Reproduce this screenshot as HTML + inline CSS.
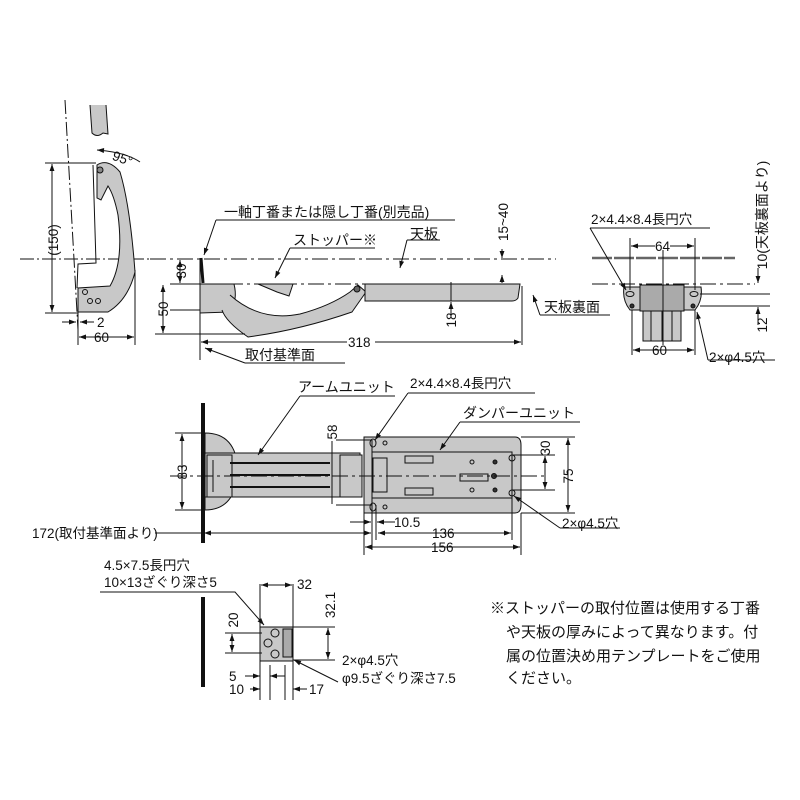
<!DOCTYPE html>
<html><head><meta charset="utf-8"><style>
html,body{margin:0;padding:0;background:#fff;width:800px;height:800px;overflow:hidden}
svg{display:block}
text{font-family:"Liberation Sans","Noto Sans CJK JP",sans-serif;fill:#111}
</style></head><body>
<svg width="800" height="800" viewBox="0 0 800 800" xmlns="http://www.w3.org/2000/svg">
<defs>
<marker id="a" viewBox="0 0 10 10" refX="10" refY="5" markerWidth="9" markerHeight="7" orient="auto-start-reverse" markerUnits="userSpaceOnUse"><path d="M0,1.5 L10,5 L0,8.5 z" fill="#111"/></marker>
</defs>
<g stroke="#111" stroke-width="1" fill="none">
<!-- ============ TOP LEFT VIEW ============ -->
<path d="M65,100 L78,330" stroke-dasharray="14,3,2,3"/>
<path d="M20,259 H150" stroke-dasharray="14,3,2,3"/>
<path d="M90,105 L92,133 Q97,138 103,133 L108,134 L106,105" fill="#c8c8c8"/>
<path d="M97,150 Q125,152 140,162" marker-start="url(#a)"/>
<path d="M93,165 L96,263 L78,264 L77,288" />
<path d="M97,165 Q108,158 120,172 Q130,205 135,272 Q128,300 108,312 L78,312 L78,288 L110,286 Q124,262 118,215 Q114,195 108,186 L101,200 L97,198 Z" fill="#c8c8c8"/>
<circle cx="100" cy="170" r="3" fill="#888"/>
<circle cx="85" cy="292" r="2.5"/><circle cx="90" cy="301" r="2.5"/><circle cx="98" cy="301" r="2.5"/>
<path d="M45,163 H96 M45,313 H78"/>
<path d="M52,164 V312" marker-start="url(#a)" marker-end="url(#a)"/>
<path d="M78,310 V345 M135,270 V345"/>
<path d="M79,337 H134" marker-start="url(#a)" marker-end="url(#a)"/>
<path d="M62,322 H76" marker-end="url(#a)"/><path d="M94,322 H80" marker-end="url(#a)"/>

<!-- ============ SIDE VIEW ============ -->
<path d="M150,259 H556" stroke-dasharray="16,4,3,4"/>
<path d="M200,284 H520" stroke-dasharray="16,4,3,4"/>
<path d="M201,258 L203,283" stroke-width="3"/>
<path d="M200,284 H234 Q238,300 230,312 L200,313 Z" fill="#c8c8c8"/>
<path d="M230,295 Q260,322 300,314 Q330,306 350,292 L358,285 L366,292 L352,312 Q300,330 248,337 Q226,322 222,310" fill="#c8c8c8"/>
<path d="M258,284 H293 L289,296 L277,292 Z" fill="#c8c8c8"/>
<circle cx="357" cy="289" r="3" fill="#666"/>
<path d="M365,284 H520 L518,298 Q516,301 512,301 H365 Z" fill="#c8c8c8"/>
<path d="M522,286 V345"/>
<path d="M200,258 V360"/>
<path d="M170,284 H200 M170,310 H200 M155,334 H245"/>
<path d="M180,260 V283" marker-start="url(#a)" marker-end="url(#a)"/>
<path d="M163,285 V333" marker-start="url(#a)" marker-end="url(#a)"/>
<path d="M201,342 H347 M375,342 H521" marker-end="url(#a)"/>
<path d="M201,342 H215" marker-start="url(#a)"/>
<path d="M502,249 V258" marker-end="url(#a)"/><path d="M502,275 V283" marker-end="url(#a)" transform="rotate(180 502 279)"/>
<path d="M451,282 V301" /><path d="M451,318 V302" marker-end="url(#a)"/>
<path d="M245,363 L205,348" marker-end="url(#a)"/><path d="M245,363 H345"/>
<path d="M216,220 H455 M216,220 L204,255" marker-end="url(#a)"/>
<path d="M290,248 H375 M290,248 L275,278" marker-end="url(#a)"/>
<path d="M407,240 H440 M407,240 L400,268" marker-end="url(#a)"/>
<path d="M540,315 H610 M540,315 L533,295" marker-end="url(#a)"/>

<!-- ============ RIGHT SMALL VIEW ============ -->
<path d="M592,258 H735" stroke="#666" stroke-width="2.5" stroke-dasharray="20,2"/>
<path d="M592,284 H755" stroke-dasharray="16,4,3,4"/>
<path d="M624,287 Q622,300 630,310 H695 Q703,300 701,287 Z" fill="#c8c8c8"/>
<rect x="640" y="285" width="44" height="26" fill="#aaa"/>
<rect x="643" y="311" width="38" height="30" fill="#c8c8c8"/>
<path d="M651,311 V341 M662,311 V341 M672,311 V341"/>
<ellipse cx="630" cy="294" rx="4" ry="2.5"/><ellipse cx="694" cy="294" rx="4" ry="2.5"/>
<circle cx="632" cy="306" r="2" fill="#333"/><circle cx="693" cy="306" r="2" fill="#333"/>
<path d="M630,238 V290 M695,238 V290 M663,250 V345 M632,310 V355 M695,310 V355"/>
<path d="M631,246 H655 M670,246 H694" /><path d="M645,246 H631" marker-end="url(#a)"/><path d="M680,246 H694" marker-end="url(#a)"/>
<path d="M646,350 H633" marker-end="url(#a)"/><path d="M682,350 H694" marker-end="url(#a)"/><path d="M633,350 H694"/>
<path d="M700,294 H770 M700,306 H770"/>
<path d="M758,268 V283" marker-end="url(#a)"/><path d="M758,325 V307" marker-end="url(#a)"/>
<path d="M590,228 H710 M590,228 L626,290" marker-end="url(#a)"/>
<path d="M708,360 H775 M708,360 L697,312" marker-end="url(#a)"/>

<!-- ============ PLAN VIEW ============ -->
<path d="M203,403 V543" stroke-width="4"/>
<path d="M205,433 Q236,433 238,470 Q236,510 205,510 Z" fill="#c8c8c8"/>
<rect x="205" y="453" width="155" height="44" fill="#c8c8c8"/>
<path d="M207,455 H232 V497 H207 Z M213,460 V492" />
<path d="M230,463 H330 M230,475 H330 M230,487 H330" stroke-width="2"/>
<path d="M364,437 H515 Q521,437 521,445 V505 Q521,513 515,513 H364 Z" fill="#c8c8c8"/>
<path d="M372,452 H512 V498 H372 Z" fill="#c8c8c8"/>
<rect x="340" y="455" width="22" height="42" fill="#c8c8c8"/>
<rect x="373" y="458" width="14" height="34"/>
<rect x="405" y="456" width="28" height="7"/><rect x="405" y="488" width="28" height="7"/>
<rect x="460" y="474" width="28" height="7"/>
<circle cx="472" cy="462" r="2"/><circle cx="472" cy="490" r="2"/>
<circle cx="495" cy="462" r="2" fill="#333"/><circle cx="495" cy="490" r="2" fill="#333"/><circle cx="494" cy="476" r="2.5" fill="#333"/>
<circle cx="512" cy="458" r="3"/><circle cx="512" cy="493" r="3"/>
<ellipse cx="373" cy="443" rx="3" ry="4"/><ellipse cx="373" cy="507" rx="3" ry="4"/>
<circle cx="385" cy="443" r="2"/><circle cx="385" cy="507" r="2"/>
<path d="M170,476 H545" stroke-dasharray="16,4,3,4"/>
<path d="M175,433 H205 M175,510 H205"/>
<path d="M182,434 V509" marker-start="url(#a)" marker-end="url(#a)"/>
<path d="M336,440 H372 M336,505 H372"/>
<path d="M332,441 V504"/>
<path d="M512,455 H555 M512,490 H555 M521,437 H575 M521,513 H575"/>
<path d="M545,460 V456" marker-end="url(#a)"/><path d="M545,456 V489" /><path d="M545,480 V489" marker-end="url(#a)"/>
<path d="M568,438 V512" marker-start="url(#a)" marker-end="url(#a)"/>
<path d="M372,440 V550 M376,505 V540 M364,505 V555 M512,495 V540 M521,513 V555"/>
<path d="M155,533 H203"/>
<path d="M204,533 H371" marker-start="url(#a)" marker-end="url(#a)"/>
<path d="M350,522 H371" marker-end="url(#a)"/><path d="M395,522 H377" marker-end="url(#a)"/>
<path d="M378,533 H511" marker-start="url(#a)" marker-end="url(#a)"/>
<path d="M365,547 H520" marker-start="url(#a)" marker-end="url(#a)"/>
<path d="M300,396 H395 M300,396 L258,455" marker-end="url(#a)"/>
<path d="M408,393 H535 M408,393 L375,440" marker-end="url(#a)"/>
<path d="M460,422 H580 M460,422 L440,450" marker-end="url(#a)"/>
<path d="M560,528 H620 M560,528 L514,496" marker-end="url(#a)"/>

<!-- ============ BOTTOM SMALL VIEW ============ -->
<path d="M203,597 V687" stroke-width="4"/>
<rect x="260" y="627" width="33" height="34" fill="#c8c8c8"/>
<rect x="283" y="629" width="9" height="28" fill="#aaa"/>
<circle cx="275" cy="633" r="4"/><circle cx="268" cy="643" r="4"/><circle cx="275" cy="654" r="4"/>
<path d="M260,584 V700 M293,584 V627 M270,665 V700 M285,665 V700 M293,661 V700"/>
<path d="M261,585 H292" marker-start="url(#a)" marker-end="url(#a)"/>
<path d="M293,627 H335 M293,660 H335"/>
<path d="M328,628 V659" marker-start="url(#a)" marker-end="url(#a)"/>
<path d="M225,633 H262 M225,653 H262"/>
<path d="M232,634 V652" marker-start="url(#a)" marker-end="url(#a)"/>
<path d="M245,676 H260" marker-end="url(#a)"/><path d="M285,676 H270" marker-end="url(#a)"/>
<path d="M250,689 H260" marker-end="url(#a)"/><path d="M307,689 H293" marker-end="url(#a)"/>
<path d="M100,592 H235 L264,625" marker-end="url(#a)"/>
<path d="M338,682 L294,660" marker-end="url(#a)"/>
</g>

<g font-size="13.5">
<text x="112" y="164" transform="rotate(20 125 160)">95°</text>
<text x="58" y="240" transform="rotate(-90 58 240)" text-anchor="middle">(150)</text>
<text x="97" y="327">2</text>
<text x="94" y="342">60</text>
<text x="224" y="217" font-size="14">一軸丁番または隠し丁番(別売品)</text>
<text x="293" y="245" font-size="14">ストッパー※</text>
<text x="410" y="239" font-size="14">天板</text>
<text x="186" y="271" transform="rotate(-90 186 271)" text-anchor="middle">30</text>
<text x="168" y="309" transform="rotate(-90 168 309)" text-anchor="middle">50</text>
<text x="508" y="222" transform="rotate(-90 508 222)" text-anchor="middle">15~40</text>
<text x="456" y="320" transform="rotate(-90 456 320)" text-anchor="middle">18</text>
<text x="348" y="347">318</text>
<text x="245" y="360" font-size="14">取付基準面</text>
<text x="544" y="312" font-size="14">天板裏面</text>
<text x="591" y="224">2×4.4×8.4長円穴</text>
<text x="655" y="251">64</text>
<text x="652" y="355">60</text>
<text x="767" y="215" transform="rotate(-90 767 215)" text-anchor="middle" font-size="14">10(天板裏面より)</text>
<text x="767" y="325" transform="rotate(-90 767 325)" text-anchor="middle">12</text>
<text x="709" y="362">2×φ4.5穴</text>
<text x="298" y="392" font-size="14">アームユニット</text>
<text x="410" y="388">2×4.4×8.4長円穴</text>
<text x="463" y="418" font-size="14">ダンパーユニット</text>
<text x="187" y="472" transform="rotate(-90 187 472)" text-anchor="middle">83</text>
<text x="337" y="432" transform="rotate(-90 337 432)" text-anchor="middle">58</text>
<text x="550" y="448" transform="rotate(-90 550 448)" text-anchor="middle">30</text>
<text x="573" y="476" transform="rotate(-90 573 476)" text-anchor="middle">75</text>
<text x="32" y="538">172(取付基準面より)</text>
<text x="394" y="527">10.5</text>
<text x="432" y="538">136</text>
<text x="431" y="552">156</text>
<text x="562" y="528">2×φ4.5穴</text>
<text x="104" y="570">4.5×7.5長円穴</text>
<text x="104" y="587">10×13ざぐり深さ5</text>
<text x="297" y="589">32</text>
<text x="335" y="605" transform="rotate(-90 335 605)" text-anchor="middle">32.1</text>
<text x="238" y="620" transform="rotate(-90 238 620)" text-anchor="middle">20</text>
<text x="229" y="681">5</text>
<text x="229" y="694">10</text>
<text x="309" y="694">17</text>
<text x="342" y="665">2×φ4.5穴</text>
<text x="342" y="683">φ9.5ざぐり深さ7.5</text>
<g font-size="15">
<text x="490" y="613">※ストッパーの取付位置は使用する丁番</text>
<text x="506" y="637">や天板の厚みによって異なります。付</text>
<text x="506" y="661">属の位置決め用テンプレートをご使用</text>
<text x="506" y="683">ください。</text>
</g>
</g>
</svg>
</body></html>
